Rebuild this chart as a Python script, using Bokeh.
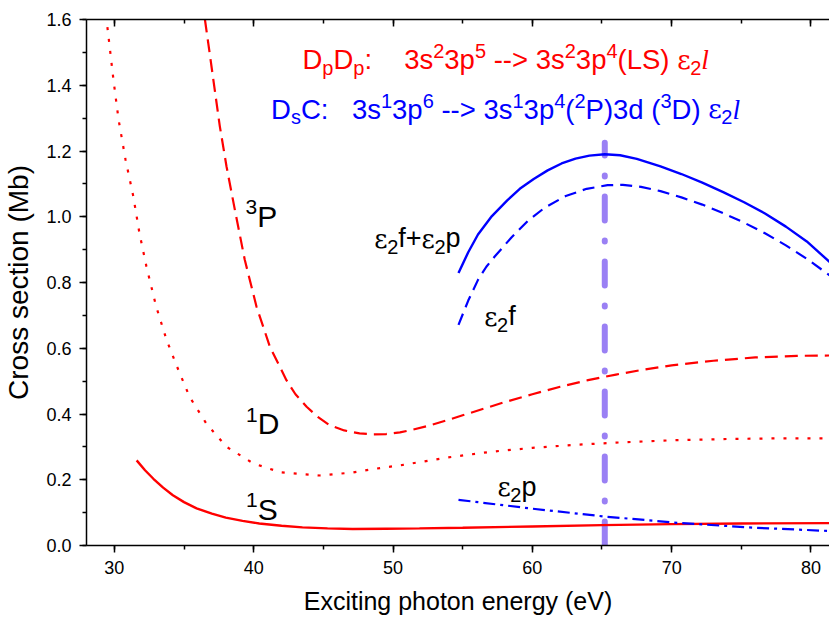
from bokeh.plotting import figure
from bokeh.models import (Label, LinearAxis, Range1d, SingleIntervalTicker,
                          PrintfTickFormatter, CustomJSTickFormatter)
from bokeh.embed import file_html
from bokeh.resources import INLINE

# ---------------- data ----------------
E_3P = [36.5, 36.8, 37.1, 37.57, 38.05, 38.65, 39.36, 40.2, 41.16, 42.35, 43.0, 43.8,
        44.6, 45.45, 46.5, 47.6, 48.6, 49.5, 50.5, 51.4, 52.6, 53.8, 55, 56.5, 58, 60,
        62, 64, 66, 68, 70, 73, 76, 79, 81.4]
CS_3P = [1.6, 1.51, 1.418, 1.275, 1.153, 1.021, 0.869, 0.727, 0.605, 0.503, 0.46,
         0.422, 0.391, 0.366, 0.350, 0.341, 0.338, 0.339, 0.344, 0.352, 0.365, 0.38,
         0.396, 0.416, 0.436, 0.46, 0.483, 0.503, 0.52, 0.535, 0.548, 0.562, 0.572,
         0.577, 0.578]

E_1D = [29.5, 29.93, 30.3, 30.8, 31.36, 31.8, 32.3, 33.0, 33.75, 34.5, 35.4, 36.6,
        38.05, 39.96, 41.9, 44.7, 47.1, 48.5, 50.7, 53.8, 57, 60, 63, 66, 70, 74, 78, 81.4]
CS_1D = [1.577, 1.418, 1.296, 1.174, 1.062, 0.950, 0.849, 0.727, 0.625, 0.544, 0.452,
         0.371, 0.300, 0.250, 0.223, 0.213, 0.222, 0.232, 0.245, 0.267, 0.285, 0.297,
         0.306, 0.313, 0.320, 0.324, 0.326, 0.326]

E_1S = [31.6, 32.2, 32.8, 33.5, 34.2, 35.0, 35.9, 37.0, 38.0, 39.2, 40.4, 42.0, 43.5,
        45.3, 47.1, 49.5, 51.9, 55, 60, 65, 70, 75, 81.4]
CS_1S = [0.259, 0.229, 0.203, 0.176, 0.153, 0.132, 0.113, 0.097, 0.085, 0.075, 0.067,
         0.060, 0.055, 0.052, 0.050, 0.051, 0.052, 0.054, 0.058, 0.062, 0.065, 0.067,
         0.068]

E_FP = [54.7, 55.4, 56.1, 57.1, 58.2, 59.1, 60.1, 61.1, 62.1, 63.1, 64.1, 65.2, 66.3,
        67.5, 69.2, 70.7, 72.2, 73.7, 75.2, 76.7, 78.2, 79.7, 81.4]
CS_FP = [0.829, 0.892, 0.946, 1.002, 1.05, 1.085, 1.115, 1.141, 1.162, 1.177, 1.186,
         1.19, 1.187, 1.176, 1.153, 1.13, 1.104, 1.075, 1.044, 1.01, 0.97, 0.925, 0.86]

E_F = [54.7, 55.4, 56.1, 56.7, 57.3, 58.5, 59.7, 60.9, 62.4, 63.9, 65.4, 66.5, 67.8,
       69.2, 70.7, 72.2, 73.7, 75.2, 76.7, 78.2, 79.7, 81.4]
CS_F = [0.671, 0.745, 0.808, 0.848, 0.879, 0.937, 0.988, 1.028, 1.063, 1.085, 1.096,
        1.097, 1.091, 1.078, 1.059, 1.037, 1.011, 0.982, 0.95, 0.913, 0.872, 0.82]

E_P = [54.7, 60, 65.2, 70.7, 76, 81.4]
CS_P = [0.139, 0.112, 0.088, 0.068, 0.054, 0.044]

E_MARK = [65.2, 65.2]
CS_MARK = [0.0, 1.225]

X_TITLE = "Exciting photon energy (eV)"
Y_TITLE = "Cross section (Mb)"

# ---------------- figure ----------------
p = figure(width=829, height=619, x_range=Range1d(28, 81.33), y_range=Range1d(0, 1.6),
           output_backend="svg", toolbar_location=None,
           min_border_left=85, min_border_right=0, min_border_top=19,
           min_border_bottom=74)
p.outline_line_color = None
p.xgrid.visible = False
p.ygrid.visible = False
p.background_fill_color = "white"
p.border_fill_color = "white"

FONT = "Liberation Sans"

xt = SingleIntervalTicker(interval=10, num_minor_ticks=2)
yt = SingleIntervalTicker(interval=0.2, num_minor_ticks=2)

ax = p.xaxis[0]
ax.ticker = xt
ax.axis_label = X_TITLE
ay = p.yaxis[0]
ay.ticker = yt
ay.formatter = PrintfTickFormatter(format="%.1f")
ay.axis_label = Y_TITLE
for a in (ax, ay):
    a.axis_line_width = 1.5
    a.major_tick_line_width = 1.5
    a.minor_tick_line_width = 1.5
    a.major_tick_out = 7
    a.major_tick_in = 0
    a.minor_tick_out = 4
    a.minor_tick_in = 0
    a.major_label_text_font = FONT
    a.major_label_text_font_size = "18px"
    a.major_label_text_color = "black"
    a.major_label_standoff = 8
    a.axis_label_text_font = FONT
    a.axis_label_text_font_style = "normal"
    a.axis_label_text_color = "black"
ax.axis_label_text_font_size = "25px"
ax.axis_label_standoff = 10
ay.axis_label_text_font_size = "28px"
ay.axis_label_standoff = 9

top = LinearAxis(ticker=SingleIntervalTicker(interval=10, num_minor_ticks=2),
                 formatter=CustomJSTickFormatter(code="return ''"))
top.axis_line_width = 1.5
top.major_tick_line_width = 1.5
top.minor_tick_line_width = 1.5
top.major_tick_in = 7
top.major_tick_out = 0
top.minor_tick_in = 4
top.minor_tick_out = 0
top.major_label_standoff = 0
p.add_layout(top, "above")

RED = "#ff0000"
BLUE = "#0000ff"
PURPLE = "#9a80f4"

p.line(E_MARK, CS_MARK, line_color=PURPLE, line_width=6, line_cap="round",
       line_dash="24 20 1 20")
p.line(E_3P, CS_3P, line_color=RED, line_width=2.2, line_dash="13 7")
p.line(E_1D, CS_1D, line_color=RED, line_width=2.2, line_dash="3 9")
p.line(E_1S, CS_1S, line_color=RED, line_width=2.4)
p.line(E_FP, CS_FP, line_color=BLUE, line_width=2.4)
p.line(E_F, CS_F, line_color=BLUE, line_width=2.2, line_dash="12 7")
p.line(E_P, CS_P, line_color=BLUE, line_width=2.2, line_dash="12 5 3 5")

# ---------------- rich text helper ----------------
ADV = {'0': 556, '1': 556, '2': 556, '3': 556, '4': 556, '5': 556, '6': 556,
       '7': 556, '8': 556, '9': 556, 's': 500, 'p': 556, 'D': 722, ':': 278,
       ' ': 278, '-': 333, '>': 584, '(': 333, ')': 333, 'L': 556, 'S': 667,
       'C': 722, 'P': 667, 'd': 556, 'f': 278, '+': 584}
LIFT = 0.27  # baseline correction, fraction of font size


def width(text, size, kind):
    if kind == "eps":
        return 0.5 * size * len(text)
    if kind == "it":
        return 0.278 * size * len(text)
    return sum(ADV.get(c, 556) for c in text) / 1000.0 * size


def rich(x, y, segs, color, F, f, sup_dy, sub_dy):
    xo = 0.0
    for text, kind in segs:
        size = F
        dy = 0.0
        fam = FONT
        style = "normal"
        if kind == "sup":
            size, dy = f, sup_dy
        elif kind == "sub":
            size, dy = f, -sub_dy
        elif kind == "eps":
            fam = "DejaVu Serif"
            size = F * 0.95
        elif kind == "it":
            fam = "Liberation Serif"
            style = "italic"
        lead = len(text) - len(text.lstrip(" "))
        core = text.strip(" ")
        trail = (len(text) - len(text.rstrip(" "))) if core else 0
        xo += lead * 0.278 * size
        if core:
            p.add_layout(Label(x=x, y=y, x_offset=xo, y_offset=dy + LIFT * size,
                               text=core, text_font=fam, text_font_style=style,
                               text_font_size=f"{size:.1f}px", text_color=color,
                               text_baseline="alphabetic", text_align="left"))
            xo += width(core, size, kind)
        xo += trail * 0.278 * size


N, UP, DN = "n", "sup", "sub"

rich(43.5, 1.4555, [("D", N), ("p", DN), ("D", N), ("p", DN), (":", N)],
     RED, 27.5, 20, 10.5, 6)
rich(50.8, 1.4555, [("3s", N), ("2", UP), ("3p", N), ("5", UP), (" -->", N), (" 3s", N),
                    ("2", UP), ("3p", N), ("4", UP), ("(LS) ", N), ("\u03b5", "eps"),
                    ("2", DN), ("l", "it")], RED, 27.5, 20, 10.5, 6)
rich(41.25, 1.305, [("D", N), ("s", DN), ("C:", N)], BLUE, 27.5, 20, 10.5, 6)
rich(47.05, 1.305, [("3s", N), ("1", UP), ("3p", N), ("6", UP), (" -->", N), (" 3s", N),
                    ("1", UP), ("3p", N), ("4", UP), ("(", N), ("2", UP),
                    ("P)3d (", N), ("3", UP), ("D) ", N), ("\u03b5", "eps"),
                    ("2", DN), ("l", "it")], BLUE, 27.5, 20, 10.5, 6)

rich(39.41, 0.976, [("3", UP), ("P", N)], "black", 30, 21, 11.5, 6)
rich(39.45, 0.345, [("1", UP), ("D", N)], "black", 30, 21, 11.5, 6)
rich(39.45, 0.086, [("1", UP), ("S", N)], "black", 30, 21, 11.5, 6)

rich(48.66, 0.9125, [("\u03b5", "eps"), ("2", DN), ("f+", N), ("\u03b5", "eps"),
                     ("2", DN), ("p", N)], "black", 27, 20, 10, 7)
rich(56.55, 0.675, [("\u03b5", "eps"), ("2", DN), ("f", N)], "black", 27, 20, 10, 7)
rich(57.5, 0.157, [("\u03b5", "eps"), ("2", DN), ("p", N)], "black", 27, 20, 10, 7)

open("out.html", "w").write(file_html(p, INLINE))
